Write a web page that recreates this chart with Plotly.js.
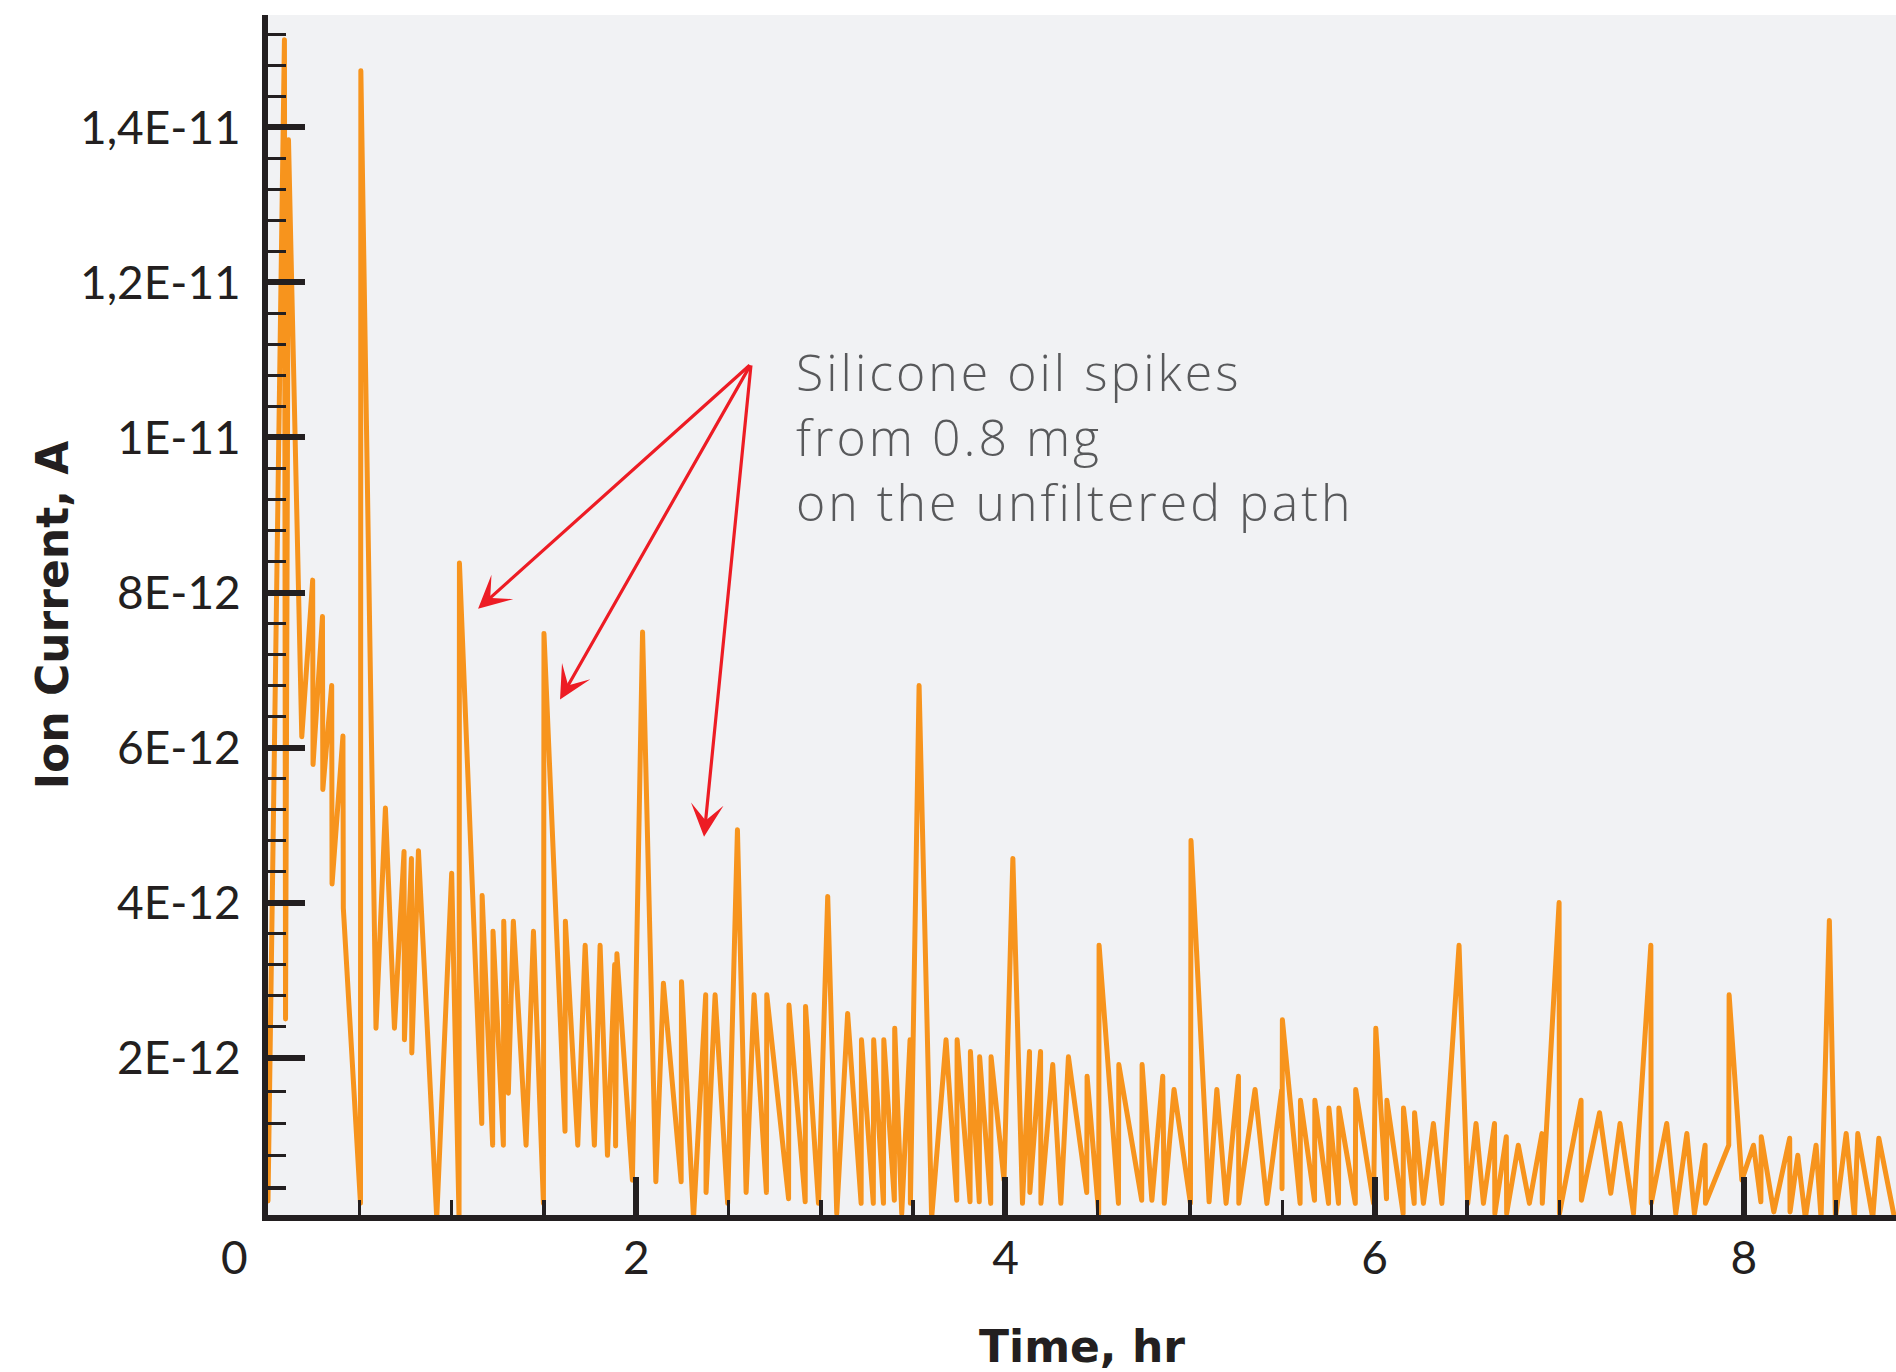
<!DOCTYPE html>
<html>
<head>
<meta charset="utf-8">
<script src="https://cdn.plot.ly/plotly-3.0.1.min.js"></script>
<style>
html,body{margin:0;padding:0;background:#ffffff;}
#chart{width:1896px;height:1372px;}
.js-line{stroke-linejoin:round!important;stroke-linecap:round!important;}
.annotation[data-index="3"] text{letter-spacing:3px;}
</style>
</head>
<body>
<div id="chart"></div>
<script>
// Time (hours)
const timeHr = [
0.005,0.094,0.100,0.116,0.188,0.247,0.249,0.300,0.302,0.350,
0.352,0.411,0.413,0.506,0.508,0.590,0.641,0.690,0.742,0.744,
0.782,0.784,0.820,0.919,1.000,1.040,1.042,1.163,1.165,1.222,
1.224,1.280,1.282,1.307,1.334,1.403,1.443,1.497,1.500,1.614,
1.616,1.683,1.723,1.773,1.804,1.844,1.883,1.888,1.895,1.979,
2.034,2.106,2.147,2.243,2.245,2.310,2.376,2.378,2.427,2.495,
2.548,2.595,2.638,2.705,2.707,2.825,2.827,2.915,2.917,2.987,
3.037,3.086,3.145,3.218,3.220,3.284,3.286,3.339,3.341,3.398,
3.400,3.438,3.483,3.485,3.532,3.600,3.678,3.736,3.738,3.808,
3.810,3.858,3.860,3.920,3.922,3.992,4.040,4.092,4.130,4.132,
4.190,4.192,4.256,4.300,4.341,4.440,4.442,4.505,4.507,4.612,
4.614,4.738,4.740,4.793,4.852,4.860,4.913,5.002,5.005,5.103,
5.145,5.195,5.262,5.264,5.352,5.416,5.497,5.498,5.500,5.596,
5.598,5.674,5.676,5.750,5.752,5.804,5.806,5.895,5.897,5.994,
6.006,6.064,6.066,6.154,6.156,6.214,6.216,6.264,6.318,6.364,
6.457,6.504,6.549,6.589,6.649,6.651,6.713,6.715,6.778,6.838,
6.906,6.908,6.999,7.001,7.118,7.120,7.218,7.279,7.329,7.402,
7.496,7.498,7.582,7.631,7.691,7.732,7.790,7.792,7.918,7.920,
7.989,8.052,8.092,8.094,8.162,8.248,8.250,8.292,8.333,8.391,
8.418,8.463,8.496,8.554,8.599,8.617,8.698,8.731,8.816
];
// Ion current in units of 1E-12 A
const ionCurrentPA = [
0.15,15.13,2.50,13.84,6.14,8.16,5.78,7.69,5.46,6.80,
4.24,6.15,3.93,0.12,14.73,2.38,5.22,2.38,4.66,2.23,
4.57,2.06,4.67,-0.07,4.38,-0.07,8.38,1.15,4.09,0.87,
3.63,0.87,3.76,1.54,3.76,0.87,3.63,0.12,7.47,1.05,
3.76,0.87,3.45,0.87,3.45,0.74,3.20,0.86,3.34,0.42,
7.49,0.40,2.96,0.40,2.98,-0.07,2.81,0.26,2.81,0.12,
4.94,0.26,2.81,0.26,2.81,0.18,2.68,0.14,2.66,0.12,
4.08,-0.01,2.57,0.12,2.23,0.12,2.23,0.12,2.23,0.16,
2.38,-0.01,2.23,0.12,6.80,-0.07,2.23,0.16,2.23,0.14,
2.08,0.14,2.01,0.12,2.01,0.42,4.57,0.12,2.08,0.26,
2.08,0.12,1.91,0.12,2.01,0.26,1.76,-0.01,3.45,0.12,
1.91,0.16,1.91,0.16,1.76,0.12,1.59,0.12,4.80,0.14,
1.59,0.12,1.76,0.12,1.59,0.12,1.59,0.31,2.49,0.12,
1.45,0.16,1.45,0.12,1.35,0.12,1.35,0.12,1.59,0.12,
2.38,0.18,1.45,-0.01,1.35,0.12,1.29,0.12,1.15,0.12,
3.45,0.12,1.15,0.12,1.15,-0.01,0.98,-0.01,0.87,0.12,
1.02,0.12,4.00,-0.01,1.45,0.16,1.29,0.25,1.15,-0.01,
3.45,0.12,1.15,-0.01,1.02,-0.01,0.87,0.12,0.87,2.81,
0.42,0.87,0.14,0.98,0.01,0.96,0.01,0.74,-0.07,0.87,
-0.07,3.77,-0.07,1.02,-0.07,1.02,-0.07,0.96,-0.07
];
const yTickValsPA = [2,4,6,8,10,12,14];
const yTickText = ["2E-12","4E-12","6E-12","8E-12","1E-11","1,2E-11","1,4E-11"];
const yMinorPA = [0.32,0.74,1.15,1.56,2.4,2.8,3.2,3.6,4.4,4.8,5.2,5.6,6.4,6.8,7.2,7.6,8.4,8.8,9.2,9.6,10.4,10.8,11.2,11.6,12.4,12.8,13.2,13.6,14.4,14.8,15.2];
const xTickVals = [2,4,6,8];
const xTickText = ["2","4","6","8"];
const xMinorVals = [0.5,1,1.5,2.5,3,3.5,4.5,5,5.5,6.5,7,7.5,8.5];
const noteText = "Silicone oil spikes<br>from 0.8 mg<br>on the unfiltered path";
const xTitle = "Time, hr";
const yTitle = "Ion Current, A";

const E12 = 1e-12;
const ionCurrentA = ionCurrentPA.map(v => v * E12);
const yTickVals = yTickValsPA.map(v => v * E12);
const yMinorVals = yMinorPA.map(v => v * E12);

const axisColor = '#231f20';
const arrowRed = '#ed1c24';

const trace = {
  x: timeHr,
  y: ionCurrentA,
  type: 'scatter',
  mode: 'lines',
  line: {color: '#f7941d', width: 5, shape: 'linear'},
  hoverinfo: 'skip'
};

// arrow tail and tips (data coords)
const arrowTail = {x: 2.622, y: 10.95 * E12};
const arrowTips = [
  {x: 1.143, y: 7.79 * E12},
  {x: 1.587, y: 6.62 * E12},
  {x: 2.367, y: 4.85 * E12}
];

const annotations = arrowTips.map(tip => ({
  x: tip.x, y: tip.y, xref: 'x', yref: 'y',
  ax: arrowTail.x, ay: arrowTail.y, axref: 'x', ayref: 'y',
  text: '', showarrow: true,
  arrowhead: 3, arrowsize: 1.7, arrowwidth: 3.2, arrowcolor: arrowRed,
  standoff: 0, startstandoff: 0
}));

annotations.push({
  x: 2.855, y: 10.0 * E12, xref: 'x', yref: 'y',
  xanchor: 'left', yanchor: 'middle', align: 'left',
  text: noteText, showarrow: false,
  font: {family: 'Open Sans, sans-serif', size: 50, weight: 300, color: '#58595b'}
});

annotations.push({
  x: -0.0205, y: 0, xref: 'paper', yref: 'paper',
  xanchor: 'center', yanchor: 'top', yshift: -12,
  text: '0', showarrow: false,
  font: {family: 'Lato, sans-serif', size: 46, color: axisColor}
});

const layout = {
  width: 1896, height: 1372,
  margin: {l: 268, r: 0, t: 15, b: 157, pad: 0},
  paper_bgcolor: '#ffffff',
  plot_bgcolor: '#f1f2f4',
  showlegend: false,
  font: {family: 'Lato, sans-serif', color: axisColor, size: 46},
  xaxis: {
    range: [0.005, 8.824],
    showgrid: false, zeroline: false,
    showline: true, linecolor: axisColor, linewidth: 6,
    tickmode: 'array', tickvals: xTickVals, ticktext: xTickText,
    ticks: 'inside', ticklen: 38, tickwidth: 6, tickcolor: axisColor,
    minor: {tickmode: 'array', tickvals: xMinorVals, ticks: 'inside', ticklen: 15, tickwidth: 3.4, tickcolor: axisColor, showgrid: false},
    tickfont: {family: 'Lato, sans-serif', size: 46, color: axisColor},
    ticklabelstandoff: -2,
    title: {text: xTitle, standoff: 50, font: {family: 'DejaVu Sans, sans-serif', size: 44, weight: 'bold', color: axisColor}},
    automargin: false
  },
  yaxis: {
    range: [-0.03 * E12, 15.45 * E12],
    showgrid: false, zeroline: false,
    showline: true, linecolor: axisColor, linewidth: 6,
    tickmode: 'array', tickvals: yTickVals, ticktext: yTickText,
    ticks: 'inside', ticklen: 37, tickwidth: 6, tickcolor: axisColor,
    minor: {tickmode: 'array', tickvals: yMinorVals, ticks: 'inside', ticklen: 18, tickwidth: 3.4, tickcolor: axisColor, showgrid: false},
    tickfont: {family: 'Lato, sans-serif', size: 46, color: axisColor},
    ticklabelstandoff: 12,
    title: {text: yTitle, standoff: 0, font: {family: 'DejaVu Sans, sans-serif', size: 44, weight: 'bold', color: axisColor}},
    automargin: false
  },
  annotations: annotations
};

Plotly.newPlot('chart', [trace], layout, {staticPlot: true, displayModeBar: false});
</script>
</body>
</html>
